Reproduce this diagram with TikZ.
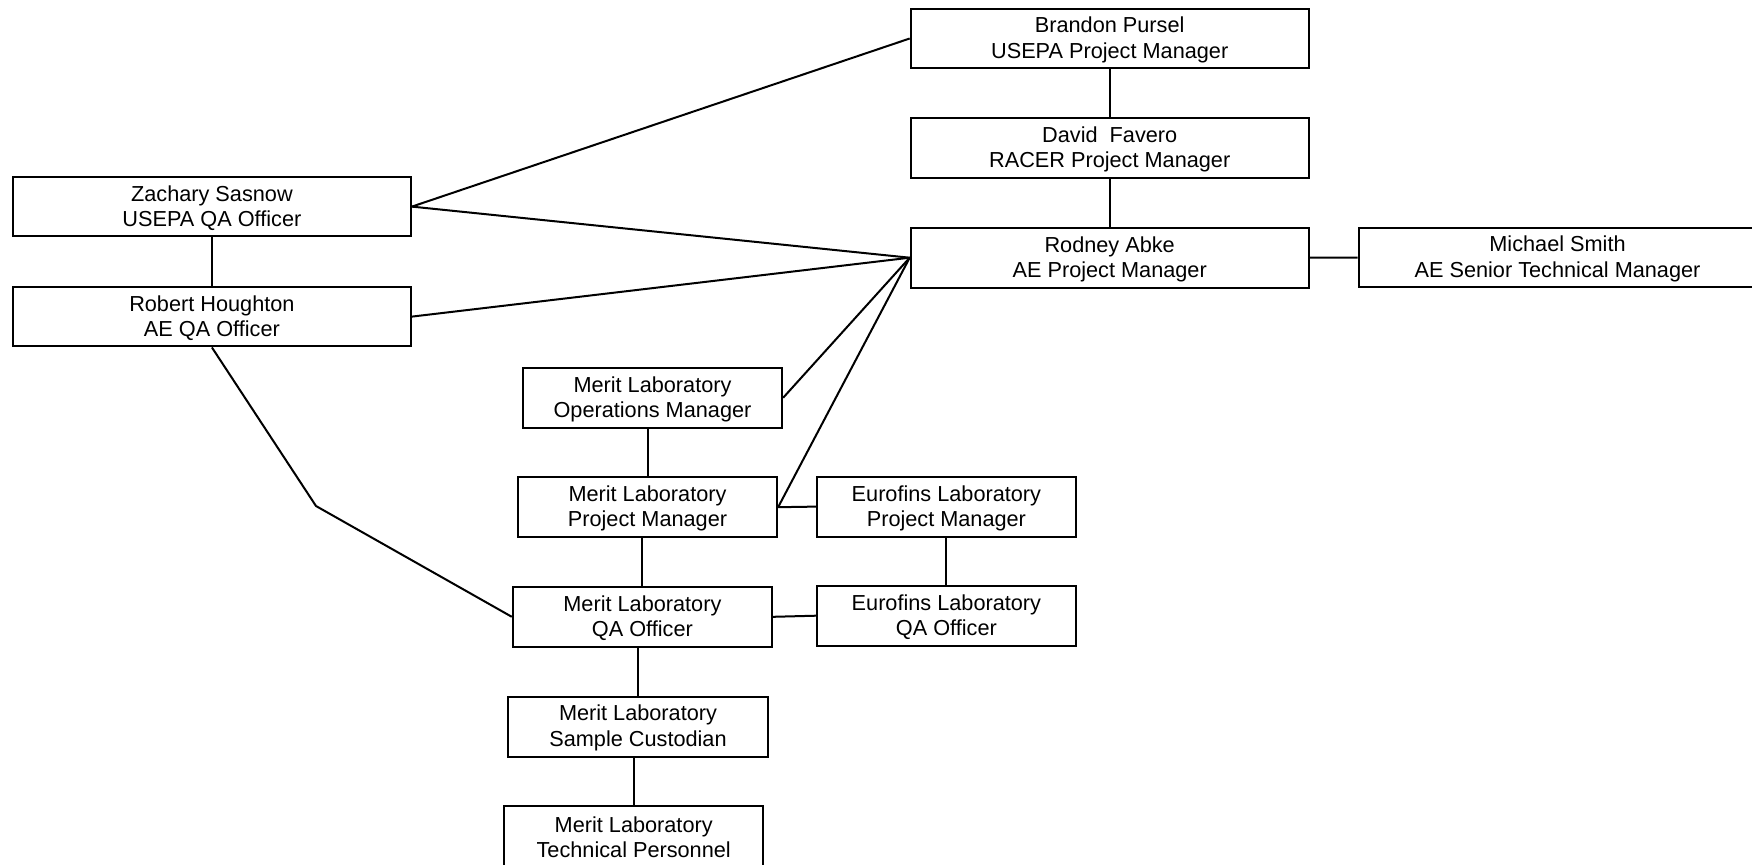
\documentclass[tikz,border=0pt]{standalone}
\usepackage{fontspec}
\setmainfont{Liberation Sans}
\begin{document}
\begin{tikzpicture}[x=0.5pt,y=-0.5pt,
  lab/.style={align=center, inner sep=0pt, yshift=-0.7pt, font=\fontsize{10.85}{12.6}\selectfont},
  box/.style={draw, line width=1pt, inner sep=0pt, label={[lab]center:#1}},
  big/.style={box=#1, minimum width=199pt, minimum height=29.8pt},
  small/.style={box=#1, minimum width=129.6pt, minimum height=30pt},
  conn/.style={line width=1pt}]
\useasboundingbox (0,0) rectangle (1752,864);
% top column
\node[big={Brandon Pursel\\USEPA Project Manager}] (bp) at (1109.7,38.5) {};
\node[big={David\ \ Favero\\RACER Project Manager}] (df) at (1109.7,148) {};
\node[big={Rodney Abke\\AE Project Manager}] (ra) at (1109.7,257.7) {};
\node[big={Michael Smith\\AE Senior Technical Manager}] (ms) at (1557.5,257.5) {};
% left
\node[big={Zachary Sasnow\\USEPA QA Officer}] (zs) at (211.9,206.6) {};
\node[big={Robert Houghton\\AE QA Officer}] (rh) at (211.9,316.6) {};
% laboratory
\node[small={Merit Laboratory\\Operations Manager}] (om) at (652.5,397.8) {};
\node[small={Merit Laboratory\\Project Manager}] (mpm) at (647.5,507.2) {};
\node[small={Eurofins Laboratory\\Project Manager}] (epm) at (946.4,506.6) {};
\node[small={Merit Laboratory\\QA Officer}] (mqa) at (642.4,616.8) {};
\node[small={Eurofins Laboratory\\QA Officer}] (eqa) at (946.4,615.7) {};
\node[small={Merit Laboratory\\Sample Custodian}] (sc) at (638,726.5) {};
\node[small={Merit Laboratory\\Technical Personnel}] (tp) at (633.7,835.7) {};
\coordinate (bend) at (316,506);
% connectors
\draw[conn] (bp.south) -- (df.north);
\draw[conn] (df.south) -- (ra.north);
\draw[conn] (ra.east) -- (ms.west);
\draw[conn] (zs.east) -- (bp.west);
\draw[conn] (zs.east) -- (ra.west);
\draw[conn] (rh.east) -- (ra.west);
\draw[conn] (zs.south) -- (rh.north);
\draw[conn] (ra.west) -- (om.east);
\draw[conn] (ra.west) -- (mpm.east);
\draw[conn] (mpm.east) -- (epm.west);
\draw[conn] (mpm.north) -- (mpm.north |- om.south);
\draw[conn] (mqa.north) -- (mqa.north |- mpm.south);
\draw[conn] (epm.south) -- (eqa.north);
\draw[conn] (mqa.east) -- (eqa.west);
\draw[conn] (sc.north) -- (sc.north |- mqa.south);
\draw[conn] (tp.north) -- (tp.north |- sc.south);
\draw[conn] (rh.south) -- (bend) -- (mqa.west);
\end{tikzpicture}
\end{document}
